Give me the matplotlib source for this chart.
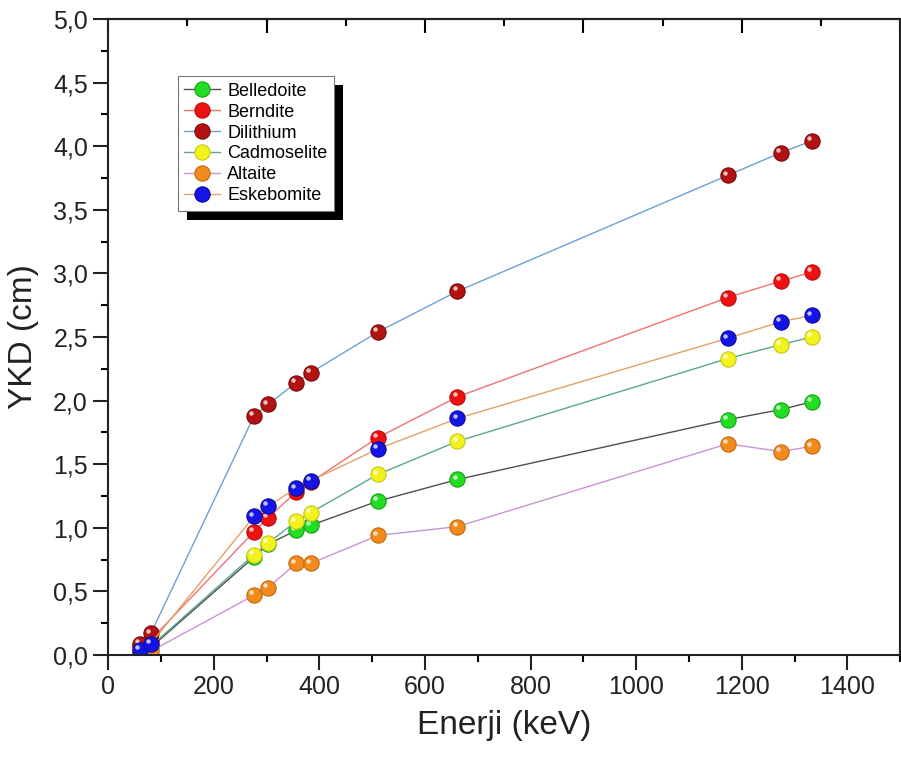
import matplotlib
matplotlib.use('Agg')
import matplotlib.pyplot as plt
from matplotlib.ticker import MultipleLocator, FuncFormatter, NullFormatter
from matplotlib.transforms import ScaledTranslation, IdentityTransform
from matplotlib.patches import Rectangle

plt.rcParams['font.family'] = ['Liberation Sans', 'DejaVu Sans']

# gamma energies (keV)
energy = [59.5, 81.0, 276.4, 302.9, 356.0, 383.8, 511.0, 661.7, 1173.2, 1274.5, 1332.5]

# half value layer per material (cm)
belledoite = [0.03, 0.06, 0.77, 0.87, 0.98, 1.02, 1.21, 1.38, 1.85, 1.93, 1.99]
berndite = [0.07, 0.12, 0.97, 1.08, 1.28, 1.36, 1.71, 2.03, 2.81, 2.94, 3.01]
dilithium = [0.09, 0.17, 1.88, 1.97, 2.14, 2.22, 2.54, 2.86, 3.77, 3.95, 4.04]
cadmoselite = [0.03, 0.07, 0.79, 0.88, 1.05, 1.12, 1.42, 1.68, 2.33, 2.44, 2.50]
altaite = [0.01, 0.03, 0.47, 0.53, 0.72, 0.72, 0.94, 1.01, 1.66, 1.60, 1.64]
eskebomite = [0.04, 0.09, 1.09, 1.17, 1.31, 1.37, 1.62, 1.86, 2.49, 2.62, 2.67]

names = ['Belledoite', 'Berndite', 'Dilithium', 'Cadmoselite', 'Altaite', 'Eskebomite']
series = [belledoite, berndite, dilithium, cadmoselite, altaite, eskebomite]
ball_colors = ['#22dd22', '#ee1111', '#b31212', '#f2f21e', '#f28a1c', '#1414e6']
edge_colors = ['#18a018', '#b80c0c', '#7a0a0a', '#c8c814', '#c26a10', '#0c0c9c']
line_colors = ['#505050', '#f07272', '#6f9fd6', '#5aa88a', '#c894d6', '#e4a164']

fig = plt.figure(figsize=(9.01, 7.63), dpi=100)
ax = fig.add_axes([0.12, 0.1415, 0.879, 0.8336])

# small highlight spot offset up-left to give the markers a glossy look
shine = ax.transData + ScaledTranslation(-2 / 72, 2 / 72, fig.dpi_scale_trans)

handles = []
for name, y, fc, ec, lc in zip(names, series, ball_colors, edge_colors, line_colors):
    h, = ax.plot(energy, y, '-', color=lc, lw=1.0, marker='o', ms=11,
                 mfc=fc, mec=ec, mew=0.8, label=name)
    ax.plot(energy, y, 'o', ms=3.2, mfc='white', mec='none', alpha=0.75,
            transform=shine)
    handles.append(h)

ax.set_xlim(0, 1500)
ax.set_ylim(0, 5)
ax.xaxis.set_major_locator(MultipleLocator(200))
ax.xaxis.set_minor_locator(MultipleLocator(100))
ax.yaxis.set_major_locator(MultipleLocator(0.5))
ax.yaxis.set_minor_locator(MultipleLocator(0.25))
ax.yaxis.set_major_formatter(FuncFormatter(lambda v, p: f'{v:.1f}'.replace('.', ',')))

ax.tick_params(which='major', direction='out', length=11, width=1.5,
               labelsize=18, colors='#222222')
ax.tick_params(which='minor', direction='out', length=5, width=1.5)
ax.tick_params(right=False)
for s in ax.spines.values():
    s.set_linewidth(1.5)
    s.set_color('#222222')

top = ax.secondary_xaxis('top')
top.xaxis.set_major_locator(MultipleLocator(300))
top.xaxis.set_minor_locator(MultipleLocator(150))
top.xaxis.set_major_formatter(NullFormatter())
top.tick_params(which='major', direction='in', length=10, width=1.5)
top.tick_params(which='minor', direction='in', length=5, width=1.5)
top.spines['top'].set_linewidth(1.5)

ax.set_xlabel('Enerji (keV)', fontsize=24, color='#222222', labelpad=8)
ax.set_ylabel('YKD (cm)', fontsize=24, color='#222222', labelpad=10)

leg = ax.legend(handles=handles, loc='upper left', bbox_to_anchor=(0.088, 0.91),
                borderaxespad=0, fontsize=13, frameon=True, fancybox=False,
                edgecolor='#777777', framealpha=1, handlelength=2.0,
                labelspacing=0.22, handletextpad=0.4, borderpad=0.35,
                markerscale=1.0)
leg.get_frame().set_linewidth(0.8)
leg.set_zorder(10)

# drop shadow behind the legend box
fig.canvas.draw()
bb = leg.get_window_extent()
shadow = Rectangle((bb.x0 + 9, bb.y0 - 9), bb.width, bb.height,
                   transform=IdentityTransform(), facecolor='black',
                   edgecolor='none', zorder=9, clip_on=False)
ax.add_artist(shadow)

fig.savefig('out.png', dpi=100)
